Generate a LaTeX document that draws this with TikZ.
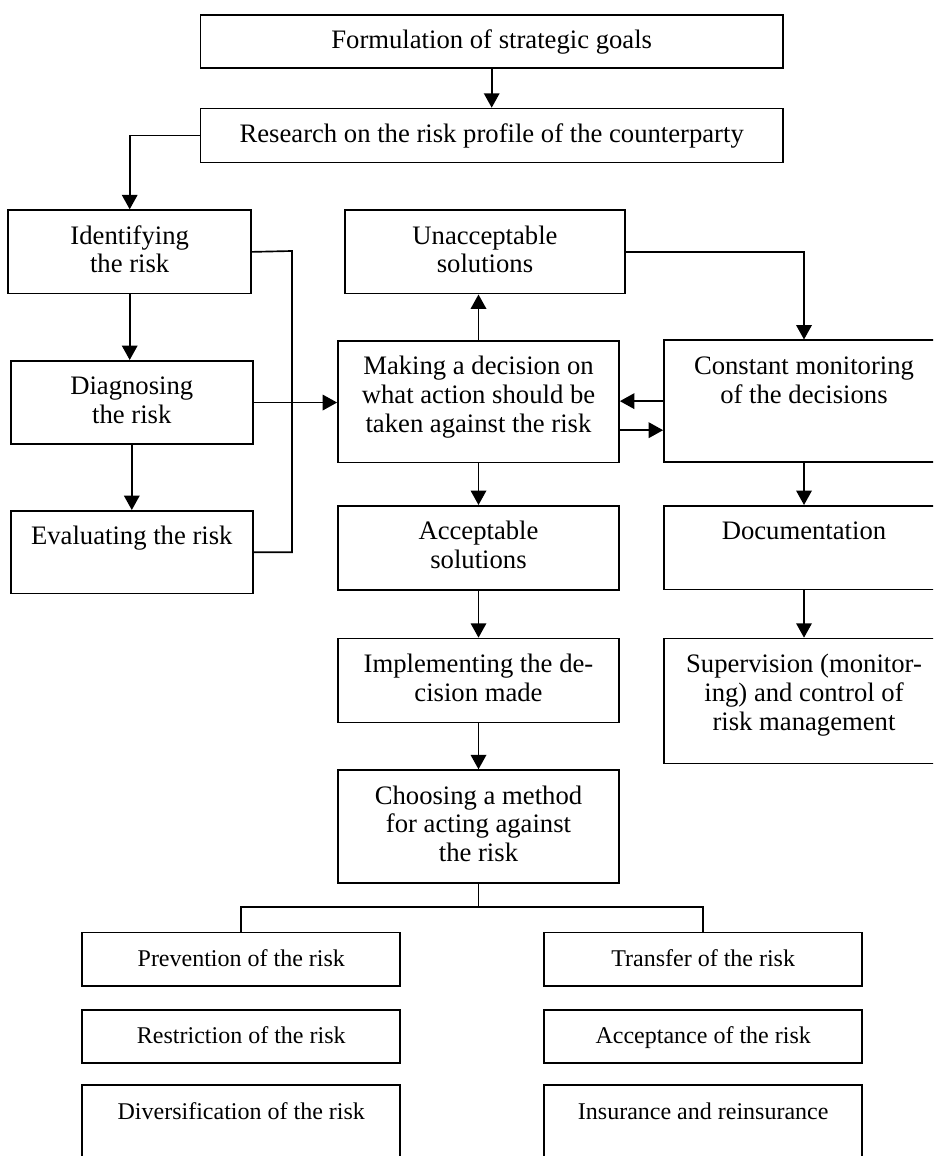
\documentclass[tikz,border=0pt]{standalone}
\usepackage{fontspec}
\setmainfont{Liberation Serif}
\usetikzlibrary{arrows.meta}

% one drawing unit = one pixel of the layout grid
\newdimen\px \px=0.45pt
\newcommand\mainsize{\fontsize{12}{12.96}\selectfont}
\newcommand\optsize{\fontsize{10.8}{12}\selectfont}
% box with its text set from the top: name, centre x, top y, width, height, font, text
\newcommand\boxnode[7]{%
  \node[blk, anchor=north] (#1) at (#2,#3)
    {\parbox[c][#5\px][t]{#4\px}{\centering#6\rule{0pt}{15.3pt}#7}};}

\tikzset{
  blk/.style={draw, rectangle, line width=0.8pt, inner sep=0pt},
  link/.style={line width=0.75pt},
  arr/.style={link, -{Triangle[length=6.5pt,width=7pt]}}
}

\begin{document}
\begin{tikzpicture}[x=0.45pt, y=-0.45pt]
\fill[white] (0,0) rectangle (933,1156);
\useasboundingbox (0,0) rectangle (933,1156);
\clip (0,0) rectangle (933,1156);

% planning chain
\boxnode{goals}{491.7}{14}{582.5}{53.3}{\mainsize}{Formulation of strategic goals}
\boxnode{research}{491.7}{107.7}{582.5}{54}{\mainsize}{Research on the risk profile of the counterparty}

% risk analysis column
\boxnode{ident}{129.7}{209.3}{242.7}{83.4}{\mainsize}{Identifying\\the risk}
\boxnode{diag}{131.8}{360}{242.3}{83.3}{\mainsize}{Diagnosing\\the risk}
\boxnode{eval}{131.8}{510}{242.3}{82.7}{\mainsize}{Evaluating the risk}

% decision column
\boxnode{unacc}{485}{209.3}{280}{83.4}{\mainsize}{Unacceptable\\solutions}
\boxnode{decide}{478.5}{340}{281}{121.7}{\mainsize}{Making a decision on\\what action should be\\taken against the risk}
\boxnode{accept}{478.5}{505}{281}{84}{\mainsize}{Acceptable\\solutions}
\boxnode{implement}{478.5}{637.7}{281}{84}{\mainsize}{Implementing the de-\\cision made}
\boxnode{choose}{478.5}{769.3}{281}{113}{\mainsize}{Choosing a method\\for acting against\\the risk}

% monitoring column
\boxnode{monitor}{804}{339.5}{280}{121.5}{\mainsize}{Constant monitoring\\of the decisions}
\boxnode{docs}{804}{505}{280}{83.5}{\mainsize}{Documentation}
\boxnode{supervise}{804}{637.7}{280}{125}{\mainsize}{Supervision (monitor-\\ing) and control of\\risk management}

% methods of acting against the risk
\boxnode{prevent}{241.3}{931.7}{318}{53.3}{\optsize}{Prevention of the risk}
\boxnode{restrict}{241.3}{1009}{318}{53.3}{\optsize}{Restriction of the risk}
\boxnode{diversify}{241.3}{1084.3}{318}{90}{\optsize}{Diversification of the risk}
\boxnode{transfer}{703.2}{931.7}{318.3}{53.3}{\optsize}{Transfer of the risk}
\boxnode{acceptance}{703.2}{1009}{318.3}{53.3}{\optsize}{Acceptance of the risk}
\boxnode{insurance}{703.2}{1084.3}{318.3}{90}{\optsize}{Insurance and reinsurance}

% connectors
\draw[arr] (goals.south) -- (research.north);
\draw[arr] (research.west) -| (ident.north);
\draw[arr] (ident.south) -- (ident.south |- diag.north);
\draw[arr] (diag.south) -- (diag.south |- eval.north);
\coordinate (bus) at (292,251);
\draw[link] (ident.east) -- (bus) |- (eval.east);
\draw[arr] (diag.east) -- (diag.east -| decide.west);
\draw[arr] (decide.north) -- (decide.north |- unacc.south);
\draw[arr] (unacc.east) -| (monitor.north);
\draw[arr] (monitor.west) -- (monitor.west -| decide.east);
\draw[arr] ([yshift=-12.8pt]decide.east) -- ([yshift=-12.8pt]decide.east -| monitor.west);
\draw[arr] (decide.south) -- (accept.north);
\draw[arr] (accept.south) -- (implement.north);
\draw[arr] (implement.south) -- (choose.north);
\draw[arr] (monitor.south) -- (docs.north);
\draw[arr] (docs.south) -- (supervise.north);
\coordinate (fork) at (478.5,906.7);
\draw[link] (choose.south) -- (fork);
\draw[link] (prevent.north) |- (fork) -| (transfer.north);
\end{tikzpicture}
\end{document}
